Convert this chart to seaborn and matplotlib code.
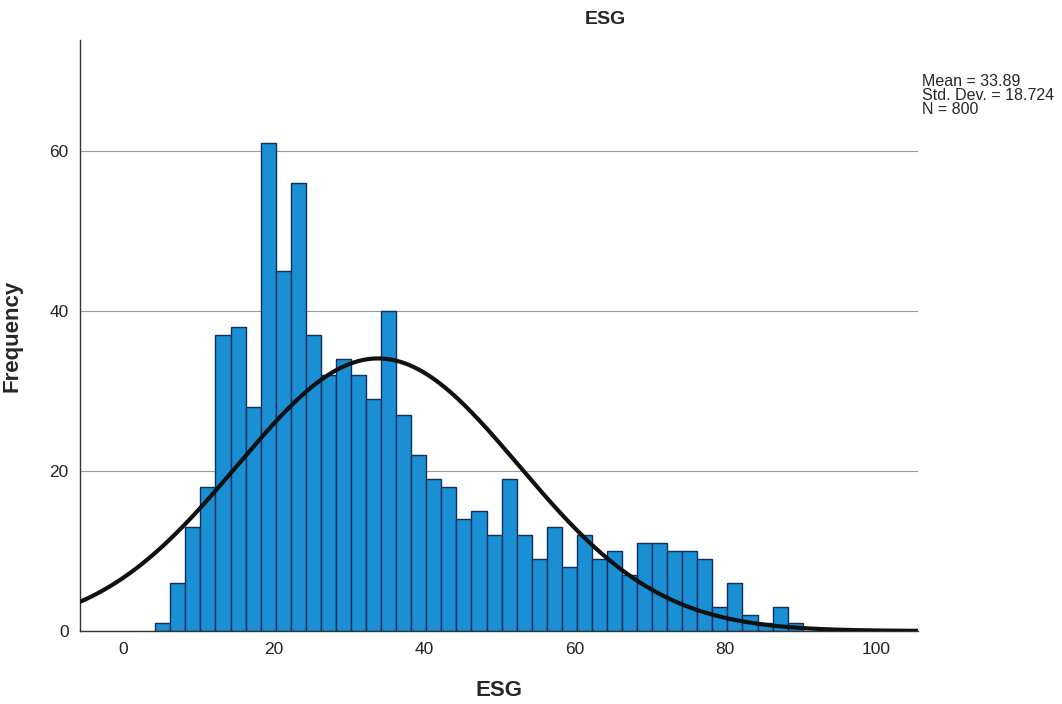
import numpy as np
import pandas as pd
import seaborn as sns
import matplotlib
matplotlib.use("Agg")
import matplotlib.pyplot as plt

# histogram bins: width 2, first edge near 4.3
BIN_START = 4.3
BIN_WIDTH = 2.0
COUNTS = [1, 6, 13, 18, 37, 38, 28, 61, 45, 56,
          37, 32, 34, 32, 29, 40, 27, 22, 19, 18,
          14, 15, 12, 19, 12, 9, 13, 8, 12, 9,
          10, 7, 11, 11, 10, 10, 9, 3, 6, 2,
          1, 3, 1]

# summary stats printed in the chart
MEAN = 33.89
STD_DEV = 18.724
N = 800

X_TICKS = [0, 20, 40, 60, 80, 100]
Y_TICKS = [0, 20, 40, 60]

edges = BIN_START + BIN_WIDTH * np.arange(len(COUNTS) + 1)
df = pd.DataFrame({"ESG": (edges[:-1] + edges[1:]) / 2, "count": COUNTS})

sns.set_style("white")
plt.rcParams["font.family"] = ["Liberation Sans", "DejaVu Sans"]

fig = plt.figure(figsize=(10.62, 7.04), dpi=100)
ax = fig.add_axes([0.0753, 0.1037, 0.789, 0.8393])

sns.histplot(data=df, x="ESG", weights="count", binwidth=BIN_WIDTH,
             binrange=(edges[0], edges[-1]), ax=ax,
             color="#1b8fd3", edgecolor="#0d2f5e", linewidth=1.0,
             alpha=1.0, zorder=2)

# normal curve scaled to the histogram, as SPSS draws it
xs = np.linspace(-6, 106, 400)
curve = N * BIN_WIDTH / (STD_DEV * np.sqrt(2 * np.pi)) * \
    np.exp(-0.5 * ((xs - MEAN) / STD_DEV) ** 2)
sns.lineplot(x=xs, y=curve, ax=ax, color="#111111", linewidth=3, zorder=3)

ax.set_xlim(-5.7, 105.6)
ax.set_ylim(0, 73.9)
ax.set_xticks(X_TICKS)
ax.set_yticks(Y_TICKS)
ax.tick_params(axis="both", length=0, labelsize=12.5, pad=8,
               labelcolor="#222222")
ax.yaxis.grid(True, color="#9a9a9a", linewidth=0.8, zorder=0)
ax.set_axisbelow(True)
for side in ["top", "right"]:
    ax.spines[side].set_visible(False)
for side in ["left", "bottom"]:
    ax.spines[side].set_color("#333333")
    ax.spines[side].set_linewidth(1.0)

ax.set_xlabel("ESG", fontsize=16, fontweight="bold")
ax.set_ylabel("Frequency", fontsize=16, fontweight="bold")
ax.xaxis.set_label_coords(0.5, -0.083)
ax.yaxis.set_label_coords(-0.069, 0.5)

fig.text(0.57, 0.972, "ESG", ha="center", va="center",
         fontsize=14, fontweight="bold")
fig.text(0.868, 0.895,
         f"Mean = {MEAN}\nStd. Dev. = {STD_DEV}\nN = {N}",
         ha="left", va="top", fontsize=11.5, linespacing=0.9)

fig.savefig("out.png", dpi=100)
